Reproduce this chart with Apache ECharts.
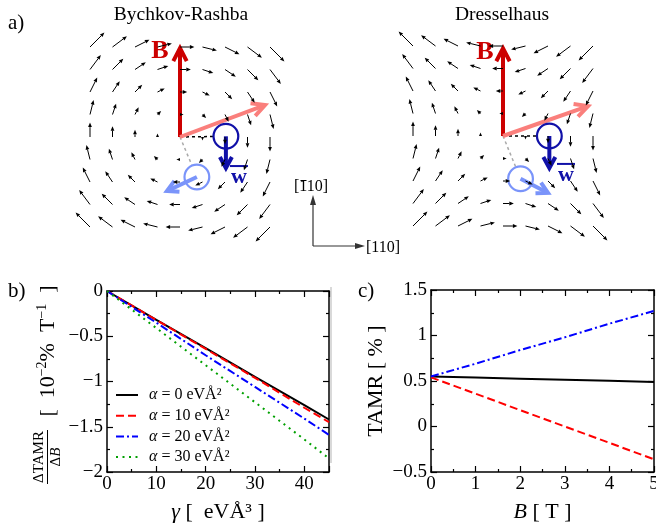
<!DOCTYPE html>
<html>
<head>
<meta charset="utf-8">
<script src="https://cdn.jsdelivr.net/npm/echarts@6/dist/echarts.min.js"></script>
<style>
  html, body { margin: 0; padding: 0; background: #fff; }
  #main { width: 656px; height: 525px; }
</style>
</head>
<body>
<div id="main"></div>
<script>
var FONT = 'Liberation Serif';

// ---- panel a: quiver grid (grid steps, y up) ----
var colX = [-4, -3, -2, -1, 0, 1, 2, 3, 4];
var rowY = [4, 3, 2, 1, 0, -1, -2, -3, -4];
// arrow components, in grid steps (x right, y up)
var rashbaWxByRow = [0.64, 0.48, 0.32, 0.16, 0, -0.16, -0.32, -0.48, -0.64];
var rashbaWyByCol = [0.64, 0.48, 0.32, 0.16, 0, -0.16, -0.32, -0.48, -0.64];
var dresselWxByRow = [-0.64, -0.48, -0.32, -0.16, 0, 0.16, 0.32, 0.48, 0.64];
var dresselWyByCol = [0.64, 0.48, 0.32, 0.16, 0, -0.16, -0.32, -0.48, -0.64];

// overlay vectors, [Rashba, Dresselhaus], grid steps from the B origin
var bTip = [[0, 3.95], [0, 3.9]];
var bLabel = [[-0.89, 3.8], [-0.8, 3.7]];
var kTip = [[3.78, 1.42], [3.78, 1.33]];
var wCenter = [[2.04, 0.03], [2.06, 0.0]];
var wTip = [[2.04, -1.38], [2.06, -1.42]];
var wLabel = [[2.62, -1.78], [2.8, -1.73]];
var kmCenter = [[0.75, -1.78], [0.78, -1.9]];
var kmTip = [[-0.58, -2.4], [2.0, -2.53]];
var circleR = 0.55;

// ---- panel b ----
var gammaVals = [0, 10, 20, 30, 40, 45];
var slopeA0 = [0, -0.32, -0.63, -0.95, -1.26, -1.42];
var slopeA10 = [0, -0.32, -0.64, -0.96, -1.29, -1.45];
var slopeA20 = [0, -0.35, -0.71, -1.06, -1.41, -1.59];
var slopeA30 = [0, -0.41, -0.82, -1.23, -1.64, -1.85];
var alphaNames = ['α = 0 eVÅ²', 'α = 10 eVÅ²', 'α = 20 eVÅ²', 'α = 30 eVÅ²'];

// ---- panel c ----
var fieldB = [0, 1, 2, 3, 4, 5];
var tamrBlack = [0.55, 0.538, 0.526, 0.514, 0.502, 0.49];
var tamrRed = [0.54, 0.36, 0.18, 0.00, -0.18, -0.36];
var tamrBlue = [0.55, 0.69, 0.84, 0.98, 1.13, 1.27];

var myChart = echarts.init(document.getElementById('main'));

function zip(xs, ys) {
    return xs.map(function (x, i) { return [x, ys[i]]; });
}

function quiverData(wxByRow, wyByCol) {
    var data = [];
    for (var r = 0; r < rowY.length; r++) {
        for (var c = 0; c < colX.length; c++) {
            data.push([colX[c], rowY[r], wxByRow[r], wyByCol[c]]);
        }
    }
    return data;
}

function renderQuiver(params, api) {
    var x = api.value(0), y = api.value(1);
    var p0 = api.coord([x, y]);
    var p1 = api.coord([x + api.value(2), y + api.value(3)]);
    var dx = p1[0] - p0[0], dy = p1[1] - p0[1];
    var len = Math.sqrt(dx * dx + dy * dy);
    if (len < 0.5) return null;
    var ux = dx / len, uy = dy / len;
    var hl = Math.min(4.5, len), hw = hl * 0.42;
    var bx = p1[0] - ux * hl, by = p1[1] - uy * hl;
    var children = [];
    if (len > hl) {
        children.push({type: 'line', shape: {x1: p0[0], y1: p0[1], x2: bx, y2: by},
            style: {stroke: '#000', lineWidth: 1}});
    }
    children.push({type: 'polygon',
        shape: {points: [p1, [bx - uy * hw, by + ux * hw], [bx + uy * hw, by - ux * hw]]},
        style: {fill: '#000'}});
    return {type: 'group', children: children};
}

function chevronArrow(p0, p1, color, lw, hl, hw) {
    var dx = p1[0] - p0[0], dy = p1[1] - p0[1];
    var len = Math.sqrt(dx * dx + dy * dy);
    var ux = dx / len, uy = dy / len;
    var bx = p1[0] - ux * hl, by = p1[1] - uy * hl;
    return [
        {type: 'line', shape: {x1: p0[0], y1: p0[1], x2: p1[0] - ux * 1.5, y2: p1[1] - uy * 1.5},
            style: {stroke: color, lineWidth: lw}},
        {type: 'polyline', shape: {points: [[bx - uy * hw, by + ux * hw], p1, [bx + uy * hw, by - ux * hw]]},
            style: {stroke: color, lineWidth: lw, fill: null, lineJoin: 'miter'}}
    ];
}

function edgePoint(from, center, rpx) {
    var dx = center[0] - from[0], dy = center[1] - from[1];
    var len = Math.sqrt(dx * dx + dy * dy);
    return [center[0] - dx / len * rpx, center[1] - dy / len * rpx];
}

function overlayRenderer(k) {
    return function (params, api) {
        var o = api.coord([0, 0]);
        var rpx = api.size([circleR, circleR])[0];
        var wc = api.coord(wCenter[k]);
        var kc = api.coord(kmCenter[k]);
        var wl = api.coord(wLabel[k]);
        var bl = api.coord(bLabel[k]);
        var children = [];
        // dashed guides
        var e1 = edgePoint(o, wc, rpx);
        children.push({type: 'line', shape: {x1: o[0], y1: o[1], x2: e1[0], y2: e1[1]},
            style: {stroke: '#000', lineWidth: 1.5, lineDash: [3, 3]}});
        var e2 = edgePoint(o, kc, rpx);
        children.push({type: 'line', shape: {x1: o[0], y1: o[1], x2: e2[0], y2: e2[1]},
            style: {stroke: '#aaaaaa', lineWidth: 1.5, lineDash: [3, 3]}});
        // B and k arrows
        children = children.concat(chevronArrow(o, api.coord(bTip[k]), '#cc0000', 4, 13, 6.7));
        children = children.concat(chevronArrow(o, api.coord(kTip[k]), '#fa7f7c', 4, 13, 6.7));
        // circles
        children.push({type: 'circle', shape: {cx: wc[0], cy: wc[1], r: rpx},
            style: {stroke: '#1010a8', lineWidth: 2.2, fill: null}});
        children.push({type: 'circle', shape: {cx: kc[0], cy: kc[1], r: rpx},
            style: {stroke: '#7a94fa', lineWidth: 2.2, fill: null}});
        children = children.concat(chevronArrow(wc, api.coord(wTip[k]), '#1010a8', 4, 11, 6));
        children = children.concat(chevronArrow(kc, api.coord(kmTip[k]), '#7a94fa', 4, 11, 6));
        // labels
        children.push({type: 'text', x: bl[0], y: bl[1],
            style: {text: 'B', font: 'bold 26px "' + FONT + '"', fill: '#cc0000', align: 'center', verticalAlign: 'middle'}});
        children.push({type: 'text', x: wl[0], y: wl[1],
            style: {text: 'w', font: 'bold 22px "' + FONT + '"', fill: '#1010a8', align: 'center', verticalAlign: 'middle'}});
        children.push({type: 'line', shape: {x1: wl[0] - 9, y1: wl[1] - 11, x2: wl[0] + 9, y2: wl[1] - 11},
            style: {stroke: '#1010a8', lineWidth: 2}});
        return {type: 'group', children: children};
    };
}

function minusFmt(v) {
    return String(v).replace('-', '\u2212');
}

var tickFont = {color: '#000', fontFamily: FONT, fontSize: 19};

function plotAxis(kind, gridIndex, min, max, interval, position, showLabel, fmt) {
    return {
        type: 'value', gridIndex: gridIndex, min: min, max: max, interval: interval,
        position: position,
        axisLine: {show: true, onZero: false, lineStyle: {color: '#000', width: 1.5}},
        axisTick: {show: true, inside: true, length: 6, lineStyle: {color: '#000', width: 1.2}},
        minorTick: {show: true, splitNumber: 2, length: 3, lineStyle: {color: '#000', width: 1.2}},
        splitLine: {show: false},
        minorSplitLine: {show: false},
        axisLabel: Object.assign({show: showLabel, margin: kind === 'x' ? 3 : 4,
            showMinLabel: true, showMaxLabel: true, formatter: fmt || minusFmt}, tickFont)
    };
}

function hiddenAxis(gridIndex) {
    return {type: 'value', gridIndex: gridIndex, min: -5, max: 5, show: false};
}

var xb = plotAxis('x', 0, 0, 45, 10, 'bottom', true, function (v) { return v === 45 ? '' : String(v); });
xb.name = '{g|γ} [\u2002eVÅ³ ]';
xb.nameLocation = 'middle';
xb.nameGap = 29;
xb.nameTextStyle = {color: '#000', fontFamily: FONT, fontSize: 22,
    rich: {g: {fontStyle: 'italic', fontFamily: FONT, fontSize: 22, color: '#000'}}};

var xc = plotAxis('x', 1, 0, 5, 1, 'bottom', true);
xc.name = '{i|B} [ T ]';
xc.nameLocation = 'middle';
xc.nameGap = 29;
xc.nameTextStyle = {color: '#000', fontFamily: FONT, fontSize: 22,
    rich: {i: {fontStyle: 'italic', fontFamily: FONT, fontSize: 22, color: '#000'}}};

var yc = plotAxis('y', 1, -0.5, 1.5, 0.5, 'left', true);
yc.name = 'TAMR [ % ]';
yc.nameLocation = 'middle';
yc.nameRotate = 90;
yc.nameGap = 44;
yc.nameTextStyle = {color: '#000', fontFamily: FONT, fontSize: 22};

function lineSeries(name, xi, yi, data, color, dash) {
    return {
        name: name, type: 'line', xAxisIndex: xi, yAxisIndex: yi,
        data: data, symbol: 'none', smooth: false, clip: true,
        lineStyle: {color: color, width: 2, type: dash},
        itemStyle: {color: color}
    };
}

var option = {
    animation: false,
    backgroundColor: '#fff',
    grid: [
        {left: 107, top: 291, width: 222, height: 181, outerBoundsMode: 'none'},
        {left: 431, top: 290, width: 223, height: 182, outerBoundsMode: 'none'},
        {left: 67.5, top: 24.5, width: 225, height: 225, outerBoundsMode: 'none'},
        {left: 390.5, top: 23.5, width: 225, height: 225, outerBoundsMode: 'none'}
    ],
    xAxis: [
        xb,
        plotAxis('x', 0, 0, 45, 10, 'top', false),
        xc,
        plotAxis('x', 1, 0, 5, 1, 'top', false),
        hiddenAxis(2),
        hiddenAxis(3)
    ],
    yAxis: [
        plotAxis('y', 0, -2, 0, 0.5, 'left', true),
        plotAxis('y', 0, -2, 0, 0.5, 'right', false),
        yc,
        plotAxis('y', 1, -0.5, 1.5, 0.5, 'right', false),
        hiddenAxis(2),
        hiddenAxis(3)
    ],
    legend: {
        data: alphaNames,
        orient: 'vertical',
        left: 115, top: 387,
        padding: 0,
        itemWidth: 22, itemHeight: 14, itemGap: 4.7,
        selectedMode: false,
        itemStyle: {opacity: 0},
        formatter: function (name) { return name.replace('α', '{a|α}'); },
        textStyle: {color: '#000', fontFamily: FONT, fontSize: 16, lineHeight: 14, padding: [0, 0, 0, 6],
            rich: {a: {fontStyle: 'italic', fontFamily: FONT, fontSize: 16, color: '#000'}}}
    },
    graphic: [
        {type: 'text', x: 8, y: 23, style: {text: 'a)', font: '21px "' + FONT + '"', fill: '#000', verticalAlign: 'middle'}},
        {type: 'text', x: 8, y: 291, style: {text: 'b)', font: '21px "' + FONT + '"', fill: '#000', verticalAlign: 'middle'}},
        {type: 'text', x: 358, y: 291, style: {text: 'c)', font: '21px "' + FONT + '"', fill: '#000', verticalAlign: 'middle'}},
        {type: 'text', x: 181, y: 15, style: {text: 'Bychkov-Rashba', font: '19.5px "' + FONT + '"', fill: '#000', align: 'center', verticalAlign: 'middle'}},
        {type: 'text', x: 502, y: 15, style: {text: 'Dresselhaus', font: '19.5px "' + FONT + '"', fill: '#000', align: 'center', verticalAlign: 'middle'}},
        // crystal axes indicator
        {type: 'line', shape: {x1: 313, y1: 246, x2: 313, y2: 203}, style: {stroke: '#333', lineWidth: 1.2}},
        {type: 'polygon', shape: {points: [[313, 195], [310, 205], [316, 205]]}, style: {fill: '#333'}},
        {type: 'line', shape: {x1: 313, y1: 246, x2: 357, y2: 246}, style: {stroke: '#333', lineWidth: 1.2}},
        {type: 'polygon', shape: {points: [[365, 246], [355, 243], [355, 249]]}, style: {fill: '#333'}},
        {type: 'text', x: 294, y: 187, style: {text: '[110]', font: '16px "' + FONT + '"', fill: '#000', verticalAlign: 'middle'}},
        {type: 'line', shape: {x1: 300.5, y1: 180.5, x2: 306.5, y2: 180.5}, style: {stroke: '#000', lineWidth: 1}},
        {type: 'text', x: 366, y: 248, style: {text: '[110]', font: '16px "' + FONT + '"', fill: '#000', verticalAlign: 'middle'}},
        // panel b y label
        {type: 'text', x: 48, y: 351, rotation: Math.PI / 2,
            style: {text: '[\u200210{s|\u22122}%\u2002T{s|\u22121}\u2002]', fontSize: 22, fontFamily: FONT, fill: '#000',
                lineHeight: 26, align: 'center', verticalAlign: 'middle',
                rich: {s: {fontSize: 14, fontFamily: FONT, verticalAlign: 'top', lineHeight: 26, fill: '#000'}}}},
        {type: 'text', x: 39, y: 457, rotation: Math.PI / 2,
            style: {text: 'ΔTAMR', fontSize: 15, fontFamily: FONT, fill: '#000', align: 'center', verticalAlign: 'middle'}},
        {type: 'line', shape: {x1: 47.5, y1: 430, x2: 47.5, y2: 484}, style: {stroke: '#000', lineWidth: 1}},
        {type: 'text', x: 56, y: 457, rotation: Math.PI / 2,
            style: {text: 'Δ{i|B}', fontSize: 15, fontFamily: FONT, fill: '#000', align: 'center', verticalAlign: 'middle',
                rich: {i: {fontStyle: 'italic', fontSize: 15, fontFamily: FONT, fill: '#000'}}}},
        // panel divider remnant
        {type: 'line', shape: {x1: 331, y1: 287, x2: 331, y2: 463}, style: {stroke: '#cccccc', lineWidth: 1.5}}
    ],
    series: [
        lineSeries(alphaNames[0], 0, 0, zip(gammaVals, slopeA0), '#000000', 'solid'),
        lineSeries(alphaNames[1], 0, 0, zip(gammaVals, slopeA10), '#ff0000', [8, 4]),
        lineSeries(alphaNames[2], 0, 0, zip(gammaVals, slopeA20), '#0000ff', [8, 3, 2, 3]),
        lineSeries(alphaNames[3], 0, 0, zip(gammaVals, slopeA30), '#00a000', [2, 4.5]),
        lineSeries('c0', 2, 2, zip(fieldB, tamrBlack), '#000000', 'solid'),
        lineSeries('c10', 2, 2, zip(fieldB, tamrRed), '#ff0000', [8, 4]),
        lineSeries('c20', 2, 2, zip(fieldB, tamrBlue), '#0000ff', [8, 3, 2, 3]),
        {type: 'custom', xAxisIndex: 4, yAxisIndex: 4, data: [[0, 0]], clip: false, silent: true,
            renderItem: overlayRenderer(0)},
        {type: 'custom', xAxisIndex: 5, yAxisIndex: 5, data: [[0, 0]], clip: false, silent: true,
            renderItem: overlayRenderer(1)},
        {type: 'custom', xAxisIndex: 4, yAxisIndex: 4, data: quiverData(rashbaWxByRow, rashbaWyByCol),
            clip: false, silent: true, renderItem: renderQuiver},
        {type: 'custom', xAxisIndex: 5, yAxisIndex: 5, data: quiverData(dresselWxByRow, dresselWyByCol),
            clip: false, silent: true, renderItem: renderQuiver}
    ]
};

myChart.setOption(option);
</script>
</body>
</html>
